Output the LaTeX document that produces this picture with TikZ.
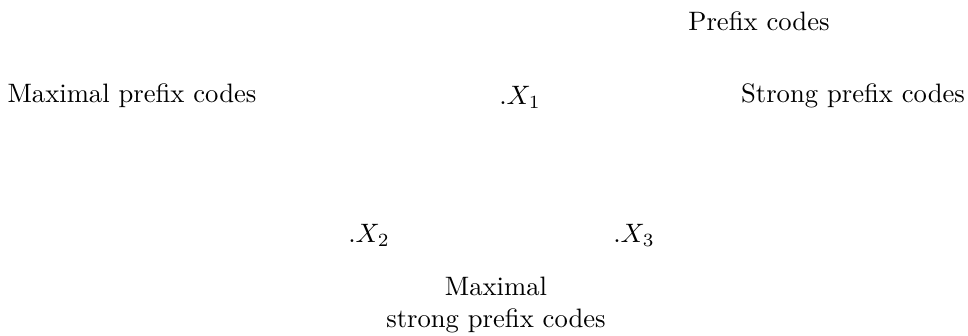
\documentclass[tikz,border=0pt]{standalone}
\begin{document}
\begin{tikzpicture}[x=0.3754pt,y=-0.3754pt,lbl/.style={inner sep=0pt,align=center}]
\useasboundingbox (0,0) rectangle (968,336);
\node[lbl] (pc) at (759,21) {Prefix codes};
\node[lbl] (mpc) at (132,96) {Maximal prefix codes};
\node[lbl] (x1) at (520,97) {$.X_1$};
\node[lbl] (spc) at (853,96) {Strong prefix codes};
\node[lbl] (x2) at (369,235) {$.X_2$};
\node[lbl] (x3) at (634,235) {$.X_3$};
\node[lbl] (mspc) at (496,305) {Maximal\\strong prefix codes};
\end{tikzpicture}
\end{document}
